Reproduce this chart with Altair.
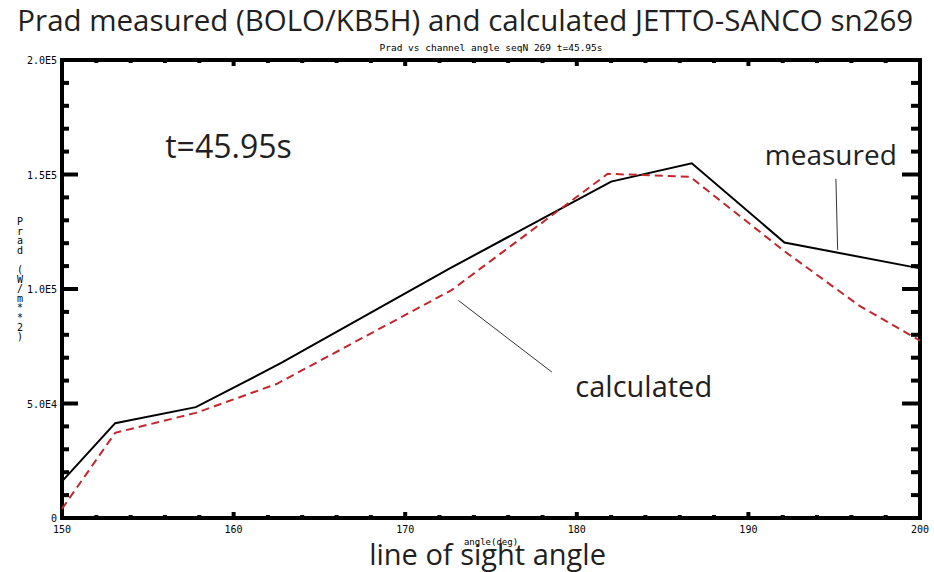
import altair as alt
import pandas as pd

# ---- data ----
meas_angle = [150.0, 153.1, 157.8, 162.8, 172.6, 182.0, 186.7, 192.1, 200.0]
meas_prad = [16000, 41400, 48400, 67800, 109000, 146900, 154900, 120300, 109000]

calc_angle = [150.0, 153.1, 157.8, 162.5, 172.7, 181.8, 186.6, 192.1, 196.5, 200.0]
calc_prad = [4000, 37200, 45900, 58500, 99500, 150300, 149000, 116500, 92500, 77500]

x_major = [150, 160, 170, 180, 190, 200]
x_tick_labels = ["150", "160", "170", "180", "190", "200"]
x_minor = [152, 154, 156, 158, 162, 164, 166, 168, 172, 174, 176, 178,
           182, 184, 186, 188, 192, 194, 196, 198]
y_major = [0, 50000, 100000, 150000, 200000]
y_tick_labels = ["0", "5.0E4", "1.0E5", "1.5E5", "2.0E5"]
y_minor = [10000, 20000, 30000, 40000, 60000, 70000, 80000, 90000,
           110000, 120000, 130000, 140000, 160000, 170000, 180000, 190000]

ann_text = ["t=45.95s", "measured", "calculated"]
ann_angle = [159.7, 194.8, 183.9]
ann_prad = [157400, 154200, 52750]
ann_size = [32, 28, 29]

lead_angle = [195.1, 173.1]
lead_prad = [148100, 95000]
lead_angle2 = [195.2, 178.55]
lead_prad2 = [117100, 63700]

TITLE = "Prad measured (BOLO/KB5H) and calculated JETTO-SANCO sn269"
SUBTITLE = "Prad vs channel angle seqN 269 t=45.95s"
XTITLE_SMALL = "angle(deg)"
XTITLE_BIG = "line of sight angle"
YTITLE_1 = ["P", "r", "a", "d"]
YTITLE_2 = ["(", "W", "/", "m", "*", "*", "2", ")"]

W, H = 858, 458
MONO = "DejaVu Sans Mono"
SANS = "Open Sans"
INK = "#231f20"
LH = 9.6

xs = alt.Scale(domain=[150, 200], nice=False, zero=False)
ys = alt.Scale(domain=[0, 200000], nice=False)

meas = pd.DataFrame({"angle": meas_angle, "prad": meas_prad})
calc = pd.DataFrame({"angle": calc_angle, "prad": calc_prad})
ann = pd.DataFrame({"text": ann_text, "angle": ann_angle, "prad": ann_prad, "size": ann_size})
lead = pd.DataFrame({"a1": lead_angle, "p1": lead_prad, "a2": lead_angle2, "p2": lead_prad2})
xmaj = pd.DataFrame({"a": x_major, "t": x_tick_labels})
xmin = pd.DataFrame({"a": x_minor})
ymaj = pd.DataFrame({"v": y_major, "t": y_tick_labels})
ymin = pd.DataFrame({"v": y_minor})

X = lambda f: alt.X(f, scale=xs, axis=None)
Y = lambda f: alt.Y(f, scale=ys, axis=None)

line_meas = alt.Chart(meas).mark_line(color="black", strokeWidth=2).encode(
    x=X("angle:Q"), y=Y("prad:Q"))
line_calc = alt.Chart(calc).mark_line(color="#c1272d", strokeWidth=2, strokeDash=[8, 5]).encode(
    x=X("angle:Q"), y=Y("prad:Q"))


def yticks(df, x0, x1):
    return alt.Chart(df).mark_rule(color="black", strokeWidth=4).encode(
        y=Y("v:Q"), x=alt.value(x0), x2=alt.value(x1))


def xticks(df, y0, y1):
    return alt.Chart(df).mark_rule(color="black", strokeWidth=4).encode(
        x=X("a:Q"), y=alt.value(y0), y2=alt.value(y1))


ticks = [
    yticks(ymaj, 0, 16), yticks(ymin, 0, 7),
    yticks(ymaj, W, W - 18), yticks(ymin, W, W - 9),
    xticks(xmaj, H, H - 6), xticks(xmin, H, H - 3),
    xticks(xmaj, 0, 6), xticks(xmin, 0, 3),
]

# tick labels (drawn through the scales)
xlab = alt.Chart(xmaj).mark_text(font=MONO, fontSize=10, color="black", baseline="middle",
                                 align="center").encode(
    x=X("a:Q"), y=alt.value(H + 12), text="t:N")
ylab = alt.Chart(ymaj).mark_text(font=MONO, fontSize=10, color="black", baseline="middle",
                                 align="right", dy=1).encode(
    y=Y("v:Q"), x=alt.value(-5), text="t:N")

ytitle1 = alt.Chart(pd.DataFrame({"a": [150]})).mark_text(
    font=MONO, fontSize=10, color="black", baseline="top", align="center", lineHeight=LH).encode(
    x=alt.value(-42), y=alt.value(157), text=alt.value(YTITLE_1))
ytitle2 = alt.Chart(pd.DataFrame({"a": [150]})).mark_text(
    font=MONO, fontSize=10, color="black", baseline="top", align="center", lineHeight=LH).encode(
    x=alt.value(-42), y=alt.value(157 + 5 * LH), text=alt.value(YTITLE_2))

xtitle_small = alt.Chart(pd.DataFrame({"a": [175], "t": [XTITLE_SMALL]})).mark_text(
    font=MONO, fontSize=9, color="black", baseline="middle", align="center").encode(
    x=X("a:Q"), y=alt.value(H + 24), text="t:N")

leaders = alt.Chart(lead).mark_rule(color="#333333", strokeWidth=1).encode(
    x=X("a1:Q"), y=Y("p1:Q"), x2="a2:Q", y2="p2:Q")

labels = alt.Chart(ann).mark_text(font=SANS, color=INK, baseline="alphabetic",
                                  align="center").encode(
    x=X("angle:Q"), y=Y("prad:Q"), text="text:N",
    size=alt.Size("size:Q", scale=None, legend=None))

title = alt.Chart(pd.DataFrame({"a": [173.5], "t": [TITLE]})).mark_text(
    font=SANS, fontSize=29.5, color=INK, baseline="alphabetic", align="center").encode(
    x=X("a:Q"), y=alt.value(-29), text="t:N")

sub = alt.Chart(pd.DataFrame({"a": [175], "t": [SUBTITLE]})).mark_text(
    font=MONO, fontSize=9.5, color="black", baseline="middle", align="center").encode(
    x=X("a:Q"), y=alt.value(-12), text="t:N")

big_x = alt.Chart(pd.DataFrame({"a": [174.8], "t": [XTITLE_BIG]})).mark_text(
    font=SANS, fontSize=29, color=INK, baseline="alphabetic", align="center").encode(
    x=X("a:Q"), y=alt.value(H + 47), text="t:N")

chart = alt.layer(line_meas, line_calc, *ticks, xlab, ylab, ytitle1, ytitle2, xtitle_small,
                  leaders, labels, title, sub, big_x).properties(
    width=W, height=H,
    autosize=alt.AutoSizeParams(type="none"),
    padding={"left": 62, "top": 60, "right": 14, "bottom": 54},
    background="white",
).configure_view(stroke="black", strokeWidth=4)

chart.save("out.html", embed_options={"renderer": "svg", "actions": False})
